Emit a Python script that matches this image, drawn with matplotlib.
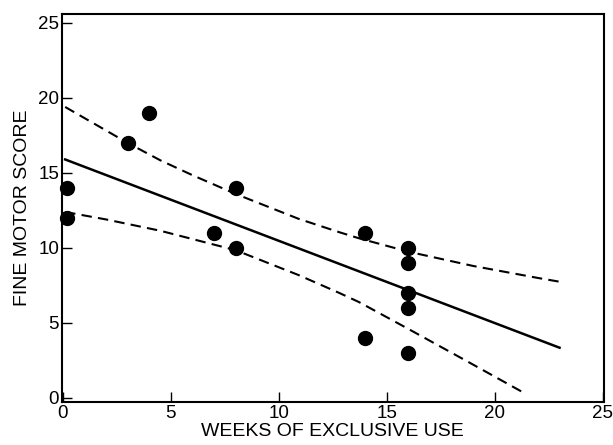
import matplotlib
matplotlib.use("Agg")
import matplotlib.pyplot as plt

# observed scores (points at 0 weeks sit just right of the axis)
weeks = [0.2, 0.2, 3, 4, 7, 8, 8, 14, 14, 16, 16, 16, 16, 16]
score = [14, 12, 17, 19, 11, 14, 10, 11, 4, 10, 9, 7, 6, 3]

# fitted regression line
fit_x = [0.1, 23.0]
fit_y = [15.9, 3.35]

# confidence band
upper_x = [0.1, 3, 4.5, 6, 8, 10.9, 12.8, 13.7, 16, 19, 22, 23.0]
upper_y = [19.4, 17.0, 15.85, 14.85, 13.6, 11.95, 11.05, 10.65, 9.75, 8.8, 8.0, 7.75]
lower_x = [0.1, 2, 4.5, 8, 10.9, 12.8, 13.7, 16, 18.9, 21.4]
lower_y = [12.4, 11.9, 11.15, 9.85, 8.2, 7.0, 6.4, 4.6, 2.3, 0.3]

plt.rcParams['font.family'] = ['Liberation Sans', 'DejaVu Sans']

fig = plt.figure(figsize=(6.13, 4.45), dpi=100)
ax = fig.add_axes([0.101, 0.0966, 0.884, 0.872])

ax.plot(weeks, score, 'o', color='black', markersize=10, clip_on=False, zorder=3)
ax.plot(fit_x, fit_y, '-', color='black', linewidth=1.8)
ax.plot(upper_x, upper_y, color='black', linewidth=1.5, dashes=(5, 3))
ax.plot(lower_x, lower_y, color='black', linewidth=1.5, dashes=(5, 3))

ax.set_xlim(-0.05, 25.05)
ax.set_ylim(-0.27, 25.6)
ax.set_xticks([0, 5, 10, 15, 20, 25])
ax.set_yticks([0, 5, 10, 15, 20, 25])
ax.tick_params(direction='in', length=7, width=1.0, labelsize=13.5, pad=2)

for s in ax.spines.values():
    s.set_linewidth(1.5)

ax.set_xlabel('WEEKS OF EXCLUSIVE USE', fontsize=14, labelpad=1)
ax.set_ylabel('FINE MOTOR SCORE', fontsize=14, labelpad=5)

fig.savefig('out.png', dpi=100)
